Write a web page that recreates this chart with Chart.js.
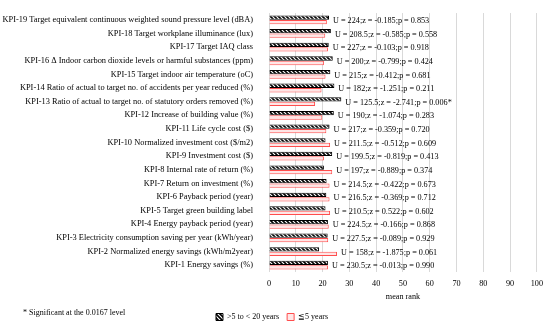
<!DOCTYPE html>
<html>
<head>
<meta charset="utf-8">
<script src="https://cdn.jsdelivr.net/npm/chart.js@4/dist/chart.umd.min.js"></script>
<style>
  html, body { margin: 0; padding: 0; background: #fff; }
  #wrap { width: 550px; height: 324px; position: relative; }
</style>
</head>
<body>
<div id="wrap"><canvas id="chart"></canvas></div>
<script>
// categories, bottom (KPI-1) to top (KPI-19)
const categories = [
  'KPI-1 Energy savings (%)',
  'KPI-2 Normalized energy savings (kWh/m2year)',
  'KPI-3 Electricity consumption saving per year (kWh/year)',
  'KPI-4 Energy payback period (year)',
  'KPI-5 Target green building label',
  'KPI-6 Payback period (year)',
  'KPI-7 Return on investment (%)',
  'KPI-8 Internal rate of return (%)',
  'KPI-9 Investment cost ($)',
  'KPI-10 Normalized investment cost ($/m2)',
  'KPI-11 Life cycle cost ($)',
  'KPI-12 Increase of building value (%)',
  'KPI-13 Ratio of actual to target no. of statutory orders removed (%)',
  'KPI-14 Ratio of actual to target no. of accidents per year reduced (%)',
  'KPI-15 Target indoor air temperature (oC)',
  'KPI-16 \u0394 Indoor carbon dioxide levels or harmful substances (ppm)',
  'KPI-17 Target IAQ class',
  'KPI-18 Target workplane illuminance (lux)',
  'KPI-19 Target equivalent continuous weighted sound pressure level (dBA)'
];
// mean rank, >5 to <20 years
const meanRankMid = [22.0, 18.7, 21.9, 22.0, 21.1, 21.4, 21.5, 20.5, 23.6, 21.1,
                     22.6, 24.2, 27.0, 24.4, 22.9, 23.8, 22.3, 23.1, 22.4];
// mean rank, <=5 years
const meanRankShort = [22.0, 25.4, 22.1, 22.3, 22.8, 22.6, 22.6, 23.6, 20.5, 22.8,
                       21.4, 19.9, 17.2, 19.6, 21.1, 20.5, 22.0, 21.0, 21.6];
// Mann-Whitney results shown beside each pair of bars
const testLabels = [
  'U = 230.5;z = -0.013;p = 0.990',
  'U = 158;z = -1.875;p = 0.061',
  'U = 227.5;z = -0.089;p = 0.929',
  'U = 224.5;z = -0.166;p = 0.868',
  'U = 210.5;z = 0.522;p = 0.602',
  'U = 216.5;z = -0.369;p = 0.712',
  'U = 214.5;z = -0.422;p = 0.673',
  'U = 197;z = -0.889;p = 0.374',
  'U = 199.5;z = -0.819;p = 0.413',
  'U = 211.5;z = -0.512;p = 0.609',
  'U = 217;z = -0.359;p = 0.720',
  'U = 190;z = -1.074;p = 0.283',
  'U = 125.5;z = -2.741;p = 0.006*',
  'U = 182;z = -1.251;p = 0.211',
  'U = 215;z = -0.412;p = 0.681',
  'U = 200;z = -0.799;p = 0.424',
  'U = 227;z = -0.103;p = 0.918',
  'U = 208.5;z = -0.585;p = 0.558',
  'U = 224;z = -0.185;p = 0.853'
];
const xTicks = [0, 10, 20, 30, 40, 50, 60, 70, 80, 90, 100];
const seriesNames = ['>5 to < 20 years', '\u22665 years'];
const footnote = '* Significant at the 0.0167 level';

const serif = "'Liberation Serif', 'DejaVu Serif', serif";

// black/white diagonal hatch
function makeHatch() {
  const c = document.createElement('canvas');
  c.width = 4; c.height = 4;
  const g = c.getContext('2d');
  g.fillStyle = '#000';
  g.fillRect(0, 0, 4, 4);
  g.strokeStyle = '#fff';
  g.lineWidth = 1.2;
  g.beginPath();
  g.moveTo(0, 0); g.lineTo(4, 4);
  g.moveTo(-2, 2); g.lineTo(2, 6);
  g.moveTo(2, -2); g.lineTo(6, 2);
  g.stroke();
  return g.createPattern(c, 'repeat');
}
const hatch = makeHatch();

const statLabelPlugin = {
  id: 'statLabels',
  afterDatasetsDraw(chart) {
    const ctx = chart.ctx;
    const m0 = chart.getDatasetMeta(0).data;
    const m1 = chart.getDatasetMeta(1).data;
    const yScale = chart.scales.y;
    ctx.save();
    ctx.font = "8.2px " + serif;
    ctx.fillStyle = '#000';
    ctx.textBaseline = 'middle';
    ctx.textAlign = 'left';
    testLabels.forEach((t, i) => {
      const x = Math.max(m0[i].x, m1[i].x) + 4;
      ctx.fillText(t, x, yScale.getPixelForValue(i) + 1);
    });
    ctx.restore();
  }
};

const footnotePlugin = {
  id: 'footnote',
  afterDraw(chart) {
    const ctx = chart.ctx;
    ctx.save();
    ctx.font = "8px " + serif;
    ctx.fillStyle = '#000';
    ctx.textBaseline = 'middle';
    ctx.fillText(footnote, 23, 313);
    ctx.restore();
  }
};

new Chart(document.getElementById('chart'), {
  type: 'bar',
  data: {
    labels: categories,
    datasets: [
      {
        label: seriesNames[0],
        data: meanRankMid,
        backgroundColor: hatch,
        borderColor: '#000',
        borderWidth: 1,
        categoryPercentage: 0.66,
        barPercentage: 0.95
      },
      {
        label: seriesNames[1],
        data: meanRankShort,
        backgroundColor: '#ffe6e6',
        borderColor: '#ff4d4d',
        borderWidth: 1,
        categoryPercentage: 0.66,
        barPercentage: 0.95
      }
    ]
  },
  options: {
    indexAxis: 'y',
    responsive: true,
    maintainAspectRatio: false,
    animation: false,
    layout: { padding: { top: 5, right: 6, bottom: 0, left: 0 } },
    scales: {
      y: {
        reverse: true,
        grid: { display: false },
        border: { display: false },
        ticks: { color: '#000', font: { family: serif, size: 8.4 }, padding: 8, autoSkip: false },
        afterFit(scale) { scale.width = 269; }
      },
      x: {
        min: 0, max: 100,
        afterBuildTicks(scale) { scale.ticks = xTicks.map(v => ({ value: v })); },
        grid: { color: '#d9d9d9', drawTicks: false },
        border: { display: false },
        ticks: { color: '#000', font: { family: serif, size: 8.2 }, padding: 7 },
        title: { display: true, text: 'mean rank', color: '#000', font: { family: serif, size: 8.2 }, padding: { top: 4, bottom: 3 } },
        afterFit(scale) { scale.height = 33; }
      }
    },
    plugins: {
      legend: {
        position: 'bottom',
        maxHeight: 19,
        labels: { color: '#000', font: { family: serif, size: 8 }, boxWidth: 7, boxHeight: 7, padding: 8 }
      },
      tooltip: { enabled: false }
    }
  },
  plugins: [statLabelPlugin, footnotePlugin]
});
</script>
</body>
</html>
